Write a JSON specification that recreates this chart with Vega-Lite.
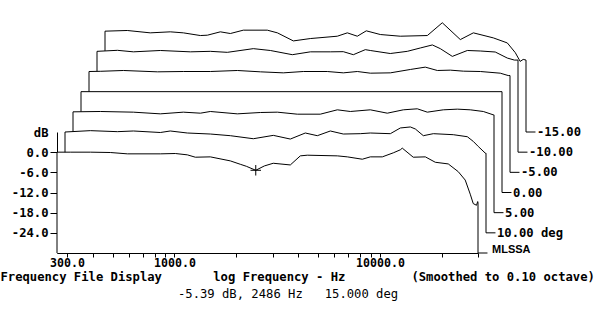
{
"$schema": "https://vega.github.io/schema/vega-lite/v6.json",
"width": 421,
"height": 121,
"autosize": {"type": "none"},
"padding": {"left": 57, "top": 132, "right": 122, "bottom": 75},
"background": "white",
"config": {
  "view": {"stroke": null},
  "axis": {"grid": false, "domainColor": "black", "tickColor": "black", "labelColor": "black", "titleColor": "black",
    "labelFont": "DejaVu Sans Mono", "labelFontWeight": "bold", "labelFontSize": 12.2,
    "titleFont": "DejaVu Sans Mono", "titleFontWeight": "bold", "titleFontSize": 12.2, "zindex": 1},
  "line": {"color": "black", "strokeWidth": 1},
  "area": {"fill": "white", "fillOpacity": 1}
},
"title": {"text": "-5.39 dB, 2486 Hz\u00a0\u00a0\u00a015.000 deg", "orient": "bottom", "anchor": "start", "frame": "group", "dx": 121, "offset": 5, "font": "DejaVu Sans Mono", "fontSize": 12.2, "fontWeight": "normal", "color": "black"},
"datasets": {
  "traces": [
    {"angle":15,"freq":268,"dB":-30},{"angle":15,"freq":268,"dB":0},{"angle":15,"freq":311,"dB":0},{"angle":15,"freq":390,"dB":0},{"angle":15,"freq":487,"dB":-0.1},{"angle":15,"freq":590,"dB":-0.5},{"angle":15,"freq":853,"dB":-0.5},{"angle":15,"freq":1009,"dB":-0.4},{"angle":15,"freq":1155,"dB":-0.8},{"angle":15,"freq":1263,"dB":-1.5},{"angle":15,"freq":1494,"dB":-1.4},{"angle":15,"freq":1870,"dB":-2.6},{"angle":15,"freq":2090,"dB":-3.6},{"angle":15,"freq":2237,"dB":-4.2},{"angle":15,"freq":2486,"dB":-5.39},{"angle":15,"freq":2737,"dB":-4.1},{"angle":15,"freq":3024,"dB":-3.3},{"angle":15,"freq":3662,"dB":-3.8},{"angle":15,"freq":4096,"dB":-1.1},{"angle":15,"freq":4429,"dB":-0.9},{"angle":15,"freq":6202,"dB":-1.1},{"angle":15,"freq":6937,"dB":-1.4},{"angle":15,"freq":8206,"dB":-2.1},{"angle":15,"freq":8976,"dB":-1.4},{"angle":15,"freq":10267,"dB":-1.4},{"angle":15,"freq":11610,"dB":-0.2},{"angle":15,"freq":12560,"dB":0.7},{"angle":15,"freq":12840,"dB":1.2},{"angle":15,"freq":14520,"dB":-1.5},{"angle":15,"freq":16630,"dB":-1.4},{"angle":15,"freq":18590,"dB":-3.0},{"angle":15,"freq":21500,"dB":-3.5},{"angle":15,"freq":24040,"dB":-5.8},{"angle":15,"freq":26000,"dB":-8.3},{"angle":15,"freq":27500,"dB":-12.5},{"angle":15,"freq":28440,"dB":-15.3},{"angle":15,"freq":29500,"dB":-15.8},{"angle":15,"freq":29900,"dB":-14.7},{"angle":15,"freq":30000,"dB":-15},{"angle":15,"freq":30000,"dB":-30},{"angle":15,"freq":33360,"dB":-30},
    {"angle":10,"freq":268,"dB":-30},{"angle":10,"freq":268,"dB":0},{"angle":10,"freq":356,"dB":0.4},{"angle":10,"freq":482,"dB":0.1},{"angle":10,"freq":577,"dB":0.3},{"angle":10,"freq":780,"dB":-0.15},{"angle":10,"freq":872,"dB":0.3},{"angle":10,"freq":1056,"dB":-0.3},{"angle":10,"freq":1366,"dB":-0.6},{"angle":10,"freq":1710,"dB":-1.1},{"angle":10,"freq":2212,"dB":-2.0},{"angle":10,"freq":2767,"dB":-1.0},{"angle":10,"freq":3348,"dB":-2.1},{"angle":10,"freq":3960,"dB":-0.3},{"angle":10,"freq":4530,"dB":-1.1},{"angle":10,"freq":5242,"dB":0.3},{"angle":10,"freq":6063,"dB":-0.6},{"angle":10,"freq":7330,"dB":-0.5},{"angle":10,"freq":8206,"dB":-0.3},{"angle":10,"freq":10270,"dB":-0.5},{"angle":10,"freq":11490,"dB":1.2},{"angle":10,"freq":12850,"dB":1.5},{"angle":10,"freq":13590,"dB":0.9},{"angle":10,"freq":14860,"dB":-1.1},{"angle":10,"freq":16630,"dB":-0.5},{"angle":10,"freq":20800,"dB":-0.8},{"angle":10,"freq":24330,"dB":-1.4},{"angle":10,"freq":26020,"dB":-2.8},{"angle":10,"freq":27500,"dB":-4.3},{"angle":10,"freq":29770,"dB":-6.3},{"angle":10,"freq":30000,"dB":-6.3},{"angle":10,"freq":30000,"dB":-30},{"angle":10,"freq":33360,"dB":-30},
    {"angle":5,"freq":268,"dB":-30},{"angle":5,"freq":268,"dB":0},{"angle":5,"freq":364,"dB":0.1},{"angle":5,"freq":527,"dB":-0.1},{"angle":5,"freq":713,"dB":-0.6},{"angle":5,"freq":923,"dB":-0.1},{"angle":5,"freq":1117,"dB":-0.4},{"angle":5,"freq":1249,"dB":0.1},{"angle":5,"freq":1690,"dB":-0.6},{"angle":5,"freq":2188,"dB":-0.2},{"angle":5,"freq":2646,"dB":-0.1},{"angle":5,"freq":3310,"dB":-0.7},{"angle":5,"freq":4283,"dB":-0.7},{"angle":5,"freq":5184,"dB":0.6},{"angle":5,"freq":5997,"dB":0.1},{"angle":5,"freq":7500,"dB":0.6},{"angle":5,"freq":9074,"dB":-0.4},{"angle":5,"freq":10860,"dB":0.6},{"angle":5,"freq":12700,"dB":0.9},{"angle":5,"freq":14210,"dB":-0.1},{"angle":5,"freq":17000,"dB":0.6},{"angle":5,"freq":19890,"dB":0.8},{"angle":5,"freq":23000,"dB":0.6},{"angle":5,"freq":26610,"dB":0.1},{"angle":5,"freq":29770,"dB":-0.9},{"angle":5,"freq":30000,"dB":-0.9},{"angle":5,"freq":30000,"dB":-30},{"angle":5,"freq":33360,"dB":-30},
    {"angle":0,"freq":268,"dB":-30},{"angle":0,"freq":268,"dB":0},{"angle":0,"freq":30000,"dB":0},{"angle":0,"freq":30000,"dB":-30},{"angle":0,"freq":33360,"dB":-30},
    {"angle":-5,"freq":268,"dB":-30},{"angle":-5,"freq":268,"dB":0},{"angle":-5,"freq":304,"dB":0.06},{"angle":-5,"freq":394,"dB":0.3},{"angle":-5,"freq":577,"dB":-0.1},{"angle":-5,"freq":771,"dB":0},{"angle":-5,"freq":1044,"dB":0},{"angle":-5,"freq":1413,"dB":0.3},{"angle":-5,"freq":1830,"dB":-0.1},{"angle":-5,"freq":2365,"dB":-0.4},{"angle":-5,"freq":2959,"dB":0},{"angle":-5,"freq":3871,"dB":0},{"angle":-5,"freq":4635,"dB":-0.4},{"angle":-5,"freq":5420,"dB":0},{"angle":-5,"freq":6271,"dB":-0.5},{"angle":-5,"freq":7850,"dB":-0.4},{"angle":-5,"freq":9820,"dB":0.6},{"angle":-5,"freq":11610,"dB":1.3},{"angle":-5,"freq":13290,"dB":0.3},{"angle":-5,"freq":15380,"dB":0.4},{"angle":-5,"freq":17790,"dB":0.1},{"angle":-5,"freq":21520,"dB":0},{"angle":-5,"freq":26900,"dB":-0.5},{"angle":-5,"freq":29400,"dB":-1.2},{"angle":-5,"freq":30000,"dB":-1.2},{"angle":-5,"freq":30000,"dB":-30},{"angle":-5,"freq":33360,"dB":-30},
    {"angle":-10,"freq":268,"dB":-30},{"angle":-10,"freq":268,"dB":0},{"angle":-10,"freq":337,"dB":0.3},{"angle":-10,"freq":403,"dB":-0.15},{"angle":-10,"freq":545,"dB":0.25},{"angle":-10,"freq":763,"dB":-0.15},{"angle":-10,"freq":954,"dB":0},{"angle":-10,"freq":1155,"dB":-0.3},{"angle":-10,"freq":1545,"dB":0.8},{"angle":-10,"freq":1870,"dB":0.25},{"angle":-10,"freq":2392,"dB":-1.0},{"angle":-10,"freq":2929,"dB":-0.15},{"angle":-10,"freq":3662,"dB":-0.15},{"angle":-10,"freq":4234,"dB":-0.1},{"angle":-10,"freq":4740,"dB":-1.0},{"angle":-10,"freq":5420,"dB":0.5},{"angle":-10,"freq":5730,"dB":0.25},{"angle":-10,"freq":7170,"dB":-0.65},{"angle":-10,"freq":8675,"dB":0},{"angle":-10,"freq":10040,"dB":1.0},{"angle":-10,"freq":11490,"dB":1.9},{"angle":-10,"freq":12560,"dB":0.8},{"angle":-10,"freq":14370,"dB":-1.5},{"angle":-10,"freq":17000,"dB":0.25},{"angle":-10,"freq":19660,"dB":0.1},{"angle":-10,"freq":23250,"dB":-0.2},{"angle":-10,"freq":26610,"dB":-2.0},{"angle":-10,"freq":28800,"dB":-2.6},{"angle":-10,"freq":30000,"dB":-2.6},{"angle":-10,"freq":30000,"dB":-30},{"angle":-10,"freq":33360,"dB":-30},
    {"angle":-15,"freq":268,"dB":-30},{"angle":-15,"freq":268,"dB":0},{"angle":-15,"freq":344,"dB":0.2},{"angle":-15,"freq":445,"dB":-0.5},{"angle":-15,"freq":557,"dB":-0.2},{"angle":-15,"freq":645,"dB":-0.5},{"angle":-15,"freq":780,"dB":-1.3},{"angle":-15,"freq":844,"dB":-1.2},{"angle":-15,"freq":976,"dB":-0.2},{"angle":-15,"freq":1092,"dB":-0.7},{"angle":-15,"freq":1263,"dB":0.3},{"angle":-15,"freq":1652,"dB":0.3},{"angle":-15,"freq":1850,"dB":-0.5},{"angle":-15,"freq":2212,"dB":-2.9},{"angle":-15,"freq":2675,"dB":-2.2},{"angle":-15,"freq":3620,"dB":-1.5},{"angle":-15,"freq":4050,"dB":-0.5},{"angle":-15,"freq":4530,"dB":-1.5},{"angle":-15,"freq":5010,"dB":0.1},{"angle":-15,"freq":5860,"dB":-1.0},{"angle":-15,"freq":7330,"dB":-1.5},{"angle":-15,"freq":9930,"dB":-1.3},{"angle":-15,"freq":11740,"dB":2.5},{"angle":-15,"freq":14370,"dB":-2.5},{"angle":-15,"freq":16630,"dB":-0.5},{"angle":-15,"freq":20800,"dB":-2.0},{"angle":-15,"freq":24330,"dB":-3.5},{"angle":-15,"freq":26610,"dB":-6.4},{"angle":-15,"freq":28100,"dB":-9.0},{"angle":-15,"freq":29070,"dB":-8.4},{"angle":-15,"freq":30000,"dB":-8.6},{"angle":-15,"freq":30000,"dB":-30},{"angle":-15,"freq":33360,"dB":-30}
  ],
  "labels": [
    {"angle":-15,"label":"-15.00","freq":30000,"dB":-30},{"angle":-10,"label":"-10.00","freq":30000,"dB":-30},{"angle":-5,"label":"-5.00","freq":30000,"dB":-30},{"angle":0,"label":"0.00","freq":30000,"dB":-30},{"angle":5,"label":"5.00","freq":30000,"dB":-30},{"angle":10,"label":"10.00 deg","freq":30000,"dB":-30},{"angle":15,"label":"MLSSA","freq":30000,"dB":-30}
  ],
  "cursor": [{"angle":15,"freq":2486,"dB":-5.39}]
},
"data": {"name": "traces"},
"resolve": {"scale": {"x": "independent", "y": "independent"}, "axis": {"x": "independent", "y": "independent"}},
"layer": [
  {"encoding": {"x": {"field": "freq", "type": "quantitative", "scale": {"type": "log", "domain": [156.5, 17518], "nice": false}, "axis": null},
                "y": {"field": "dB", "type": "quantitative", "scale": {"domain": [-66, -30], "nice": false, "zero": false}, "axis": null}},
   "layer": [
    {"transform": [{"filter": "datum.angle == -15"}], "mark": "area", "encoding": {"y2": {"datum": -30}}},
    {"transform": [{"filter": "datum.angle == -15"}], "mark": "line"},
    {"data": {"name": "labels"}, "transform": [{"filter": "datum.angle == -15"}],
     "mark": {"type": "text", "dx": 11, "align": "left", "baseline": "middle", "font": "DejaVu Sans Mono", "fontWeight": "bold", "fontSize": 12.2, "fill": "black"},
     "encoding": {"text": {"field": "label", "type": "nominal"}}}]},
  {"encoding": {"x": {"field": "freq", "type": "quantitative", "scale": {"type": "log", "domain": [171.18, 19162], "nice": false}, "axis": null},
                "y": {"field": "dB", "type": "quantitative", "scale": {"domain": [-60, -24], "nice": false, "zero": false}, "axis": null}},
   "layer": [
    {"transform": [{"filter": "datum.angle == -10"}], "mark": "area", "encoding": {"y2": {"datum": -30}}},
    {"transform": [{"filter": "datum.angle == -10"}], "mark": "line"},
    {"data": {"name": "labels"}, "transform": [{"filter": "datum.angle == -10"}],
     "mark": {"type": "text", "dx": 11, "align": "left", "baseline": "middle", "font": "DejaVu Sans Mono", "fontWeight": "bold", "fontSize": 12.2, "fill": "black"},
     "encoding": {"text": {"field": "label", "type": "nominal"}}}]},
  {"encoding": {"x": {"field": "freq", "type": "quantitative", "scale": {"type": "log", "domain": [187.23, 20959], "nice": false}, "axis": null},
                "y": {"field": "dB", "type": "quantitative", "scale": {"domain": [-54, -18], "nice": false, "zero": false}, "axis": null}},
   "layer": [
    {"transform": [{"filter": "datum.angle == -5"}], "mark": "area", "encoding": {"y2": {"datum": -30}}},
    {"transform": [{"filter": "datum.angle == -5"}], "mark": "line"},
    {"data": {"name": "labels"}, "transform": [{"filter": "datum.angle == -5"}],
     "mark": {"type": "text", "dx": 11, "align": "left", "baseline": "middle", "font": "DejaVu Sans Mono", "fontWeight": "bold", "fontSize": 12.2, "fill": "black"},
     "encoding": {"text": {"field": "label", "type": "nominal"}}}]},
  {"encoding": {"x": {"field": "freq", "type": "quantitative", "scale": {"type": "log", "domain": [204.8, 22925], "nice": false}, "axis": null},
                "y": {"field": "dB", "type": "quantitative", "scale": {"domain": [-48, -12], "nice": false, "zero": false}, "axis": null}},
   "layer": [
    {"transform": [{"filter": "datum.angle == 0"}], "mark": "area", "encoding": {"y2": {"datum": -30}}},
    {"transform": [{"filter": "datum.angle == 0"}], "mark": "line"},
    {"data": {"name": "labels"}, "transform": [{"filter": "datum.angle == 0"}],
     "mark": {"type": "text", "dx": 11, "align": "left", "baseline": "middle", "font": "DejaVu Sans Mono", "fontWeight": "bold", "fontSize": 12.2, "fill": "black"},
     "encoding": {"text": {"field": "label", "type": "nominal"}}}]},
  {"encoding": {"x": {"field": "freq", "type": "quantitative", "scale": {"type": "log", "domain": [224.0, 25075], "nice": false}, "axis": null},
                "y": {"field": "dB", "type": "quantitative", "scale": {"domain": [-42, -6], "nice": false, "zero": false}, "axis": null}},
   "layer": [
    {"transform": [{"filter": "datum.angle == 5"}], "mark": "area", "encoding": {"y2": {"datum": -30}}},
    {"transform": [{"filter": "datum.angle == 5"}], "mark": "line"},
    {"data": {"name": "labels"}, "transform": [{"filter": "datum.angle == 5"}],
     "mark": {"type": "text", "dx": 11, "align": "left", "baseline": "middle", "font": "DejaVu Sans Mono", "fontWeight": "bold", "fontSize": 12.2, "fill": "black"},
     "encoding": {"text": {"field": "label", "type": "nominal"}}}]},
  {"encoding": {"x": {"field": "freq", "type": "quantitative", "scale": {"type": "log", "domain": [245.02, 27427], "nice": false}, "axis": null},
                "y": {"field": "dB", "type": "quantitative", "scale": {"domain": [-36, 0], "nice": false, "zero": false}, "axis": null}},
   "layer": [
    {"transform": [{"filter": "datum.angle == 10"}], "mark": "area", "encoding": {"y2": {"datum": -30}}},
    {"transform": [{"filter": "datum.angle == 10"}], "mark": "line"},
    {"data": {"name": "labels"}, "transform": [{"filter": "datum.angle == 10"}],
     "mark": {"type": "text", "dx": 11, "align": "left", "baseline": "middle", "font": "DejaVu Sans Mono", "fontWeight": "bold", "fontSize": 12.2, "fill": "black"},
     "encoding": {"text": {"field": "label", "type": "nominal"}}}]},
  {"encoding": {
     "x": {"field": "freq", "type": "quantitative", "scale": {"type": "log", "domain": [268, 30000], "nice": false},
       "axis": {"orient": "bottom", "values": [300,400,500,600,700,800,900,1000,2000,3000,4000,5000,6000,7000,8000,9000,10000,20000,30000],
         "labelExpr": "indexof([300,1000,10000], datum.value) >= 0 ? format(datum.value, '.1f') : ''",
         "tickSize": 4, "labelPadding": 0, "labelFontSize": 11.6, "labelOverlap": false, "labelFlush": false,
         "title": "Frequency File Display\u00a0\u00a0\u00a0\u00a0\u00a0\u00a0\u00a0log Frequency - Hz\u00a0\u00a0\u00a0\u00a0\u00a0\u00a0\u00a0\u00a0\u00a0(Smoothed to 0.10 octave)",
         "titleX": -57, "titleY": 23.5, "titleAlign": "left", "titleBaseline": "middle"}},
     "y": {"field": "dB", "type": "quantitative", "scale": {"domain": [-30, 6], "nice": false, "zero": false},
       "axis": {"orient": "left", "values": [6,0,-6,-12,-18,-24],
         "labelExpr": "datum.value == 6 ? 'dB\u00a0' : (datum.value < 0 ? '-' : '') + format(abs(datum.value), '.1f')",
         "tickSize": 7, "labelPadding": 2, "labelOverlap": false, "title": null,
         "tickOpacity": {"condition": {"test": "datum.value == 6", "value": 0}, "value": 1}}}},
   "layer": [
    {"transform": [{"filter": "datum.angle == 15"}], "mark": "area", "encoding": {"y2": {"datum": -30}}},
    {"transform": [{"filter": "datum.angle == 15"}], "mark": "line"},
    {"data": {"name": "labels"}, "transform": [{"filter": "datum.angle == 15"}],
     "mark": {"type": "text", "dx": 14, "dy": -3, "align": "left", "baseline": "middle", "font": "Liberation Sans", "fontWeight": "bold", "fontSize": 11, "fill": "black"},
     "encoding": {"text": {"field": "label", "type": "nominal"}}},
    {"data": {"name": "cursor"}, "mark": {"type": "point", "shape": "M-1,0H1M0,-1V1", "size": 110, "filled": false, "stroke": "black", "strokeWidth": 1, "opacity": 1}}]}
]
}
